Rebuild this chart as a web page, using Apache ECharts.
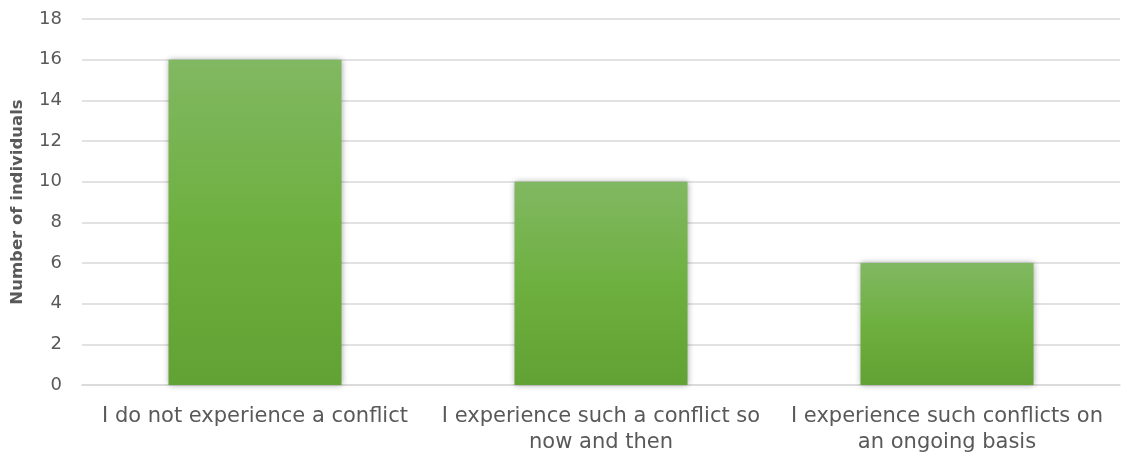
<!DOCTYPE html>
<html>
<head>
<meta charset="utf-8">
<script src="https://cdn.jsdelivr.net/npm/echarts@6/dist/echarts.min.js"></script>
<style>
html,body{margin:0;padding:0;background:#fff;}
#main{width:1123px;height:460px;}
</style>
</head>
<body>
<div id="main"></div>
<script>
const categories = [
  "I do not experience a conflict",
  "I experience such a conflict so\nnow and then",
  "I experience such conflicts on\nan ongoing basis"
];
const values = [16, 10, 6];
const yTicks = { min: 0, max: 18, interval: 2 };
const yTitle = "Number of individuals";

const FONT = '"DejaVu Sans", Verdana, sans-serif';
const chart = echarts.init(document.getElementById('main'));
chart.setOption({
  animation: false,
  grid: { left: 82, right: 3, top: 19, bottom: 75, containLabel: false, outerBoundsMode: 'none' },
  xAxis: {
    type: 'category',
    data: categories,
    axisLine: { show: true, lineStyle: { color: '#d9d9d9', width: 1.5 } },
    axisTick: { show: false },
    axisLabel: {
      color: '#595959', fontFamily: FONT, fontSize: 21,
      lineHeight: 26, margin: 19, interval: 0
    }
  },
  yAxis: {
    type: 'value',
    min: yTicks.min, max: yTicks.max, interval: yTicks.interval,
    name: yTitle,
    nameLocation: 'middle',
    nameGap: 56,
    nameTextStyle: { color: '#595959', fontFamily: FONT, fontSize: 16.5, fontWeight: 'bold' },
    axisLine: { show: false },
    axisTick: { show: false },
    splitLine: { lineStyle: { color: '#d9d9d9', width: 1.5 } },
    axisLabel: { color: '#595959', fontFamily: FONT, fontSize: 18, margin: 20 }
  },
  series: [{
    type: 'bar',
    data: values,
    barWidth: '50%',
    itemStyle: {
      color: new echarts.graphic.LinearGradient(0, 0, 0, 1, [
        { offset: 0, color: '#81b862' },
        { offset: 0.5, color: '#6eb040' },
        { offset: 1, color: '#62a133' }
      ]),
      shadowColor: 'rgba(0,0,0,0.35)',
      shadowBlur: 6,
      shadowOffsetX: 0,
      shadowOffsetY: 0
    }
  }]
});
</script>
</body>
</html>
